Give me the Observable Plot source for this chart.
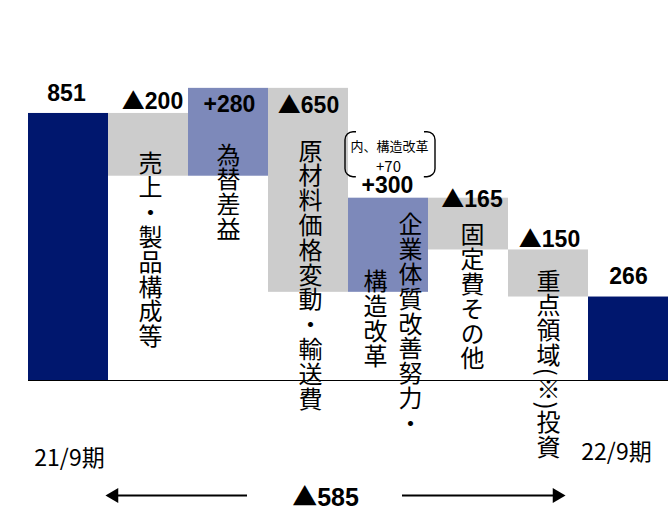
<!DOCTYPE html>
<html><head><meta charset="utf-8">
<script src="https://cdn.jsdelivr.net/npm/d3@7"></script>
<script src="https://cdn.jsdelivr.net/npm/@observablehq/plot@0.6"></script>
<style>
html,body{margin:0;padding:0;background:#fff;}
</style></head><body><div id="chart"></div>
<script>
// ---- data ----
const categories = ["21/9期", "売上・製品構成等", "為替差益", "原材料価格変動・輸送費", "企業体質改善努力・構造改革", "固定費その他", "重点領域(※)投資", "22/9期"];
const values = [851, -200, 280, -650, 300, -165, -150, 266];
const isTotal = [true, false, false, false, false, false, false, true];
const valueLabels = ["851", "▲200", "+280", "▲650", "+300", "▲165", "▲150", "266"];
const barTexts = [[], ["売上・製品構成等"], ["為替差益"], ["原材料価格変動・輸送費"], ["企業体質改善努力・", "構造改革"], ["固定費その他"], ["重点領域(※)投資"], []];
const calloutLines = ["内、構造改革", "+70"];
const periodLabels = ["21/9期", "22/9期"];
const totalChangeLabel = "▲585";

// ---- waterfall ----
let run = 0;
const bars = values.map((v, i) => {
  let y1, y2;
  if (isTotal[i]) { y1 = 0; y2 = v; }
  else { y1 = run; y2 = run + v; }
  run = y2;
  return {i, cat: categories[i], y1, y2, top: Math.max(y1, y2),
          kind: isTotal[i] ? "total" : v < 0 ? "down" : "up", label: valueLabels[i]};
});

// ---- styling / layout ----
const colors = {total: "#00176e", down: "#cccccc", up: "#7d89ba"};
const valueDx = [-2, 4, 1, 0, -1, 3.5, 1, 0];
const valueDy = [-12, -4, 24, 25, -5, 9, -2.5, -13];
const textOffsets = [[], [{dx: 2, dy: 20}], [{dx: 0, dy: 37}], [{dx: 2, dy: 33}],
                     [{dx: 22, dy: -3}, {dx: -13, dy: 54}], [{dx: 4, dy: 7}], [{dx: 0, dy: 1.5}], []];
const numFont = "'Liberation Sans', Arial, sans-serif";
const jpFont = "'Noto Sans CJK JP', sans-serif";

const marks = [
  Plot.rect(bars, {x1: d => d.i, x2: d => d.i + 1, y1: "y1", y2: "y2", fill: d => colors[d.kind]}),
  Plot.ruleY([0], {stroke: "black", strokeWidth: 1.2})
];

bars.forEach((b, k) => {
  marks.push(Plot.text([b], {x: d => d.i + 0.5, y: "top", text: "label", dx: valueDx[k], dy: valueDy[k],
    lineAnchor: "bottom", fontSize: 23, fontWeight: "bold", fontFamily: numFont, fill: "black"}));
  barTexts[k].forEach((line, j) => {
    const o = textOffsets[k][j];
    marks.push(Plot.text([b], {x: d => d.i + 0.5, y: "top", text: () => line, dx: o.dx, dy: o.dy,
      textAnchor: "start", lineAnchor: "top", fontSize: 24, fontFamily: jpFont, fill: "black"}));
  });
});

// callout on the 5th bar
const cb = bars[4];
marks.push(
  Plot.rect([cb], {x1: d => d.i, x2: d => d.i + 1, y1: "top", y2: "top", insetLeft: -3, insetRight: -7,
    insetTop: -66, insetBottom: 21, rx: 8, ry: 8, fill: "none", stroke: "black", strokeWidth: 1.4,
    strokeDasharray: "3 68 60.13 68 57.13"}),
  Plot.text([cb], {x: d => d.i + 0.5, y: "top", text: () => calloutLines[0], dx: 1, dy: -51, fontSize: 13, fontFamily: jpFont}),
  Plot.text([cb], {x: d => d.i + 0.5, y: "top", text: () => calloutLines[1], dx: 0, dy: -31, fontSize: 15, fontFamily: jpFont})
);

// period labels
marks.push(
  Plot.text([bars[0]], {x: d => d.i + 0.5, y: 0, text: () => periodLabels[0], dx: 1, dy: 78, fontSize: 23, fontFamily: jpFont}),
  Plot.text([bars[7]], {x: d => d.i + 0.5, y: 0, text: () => periodLabels[1], dx: -12, dy: 72, fontSize: 23, fontFamily: jpFont})
);

// total change arrow
marks.push(
  Plot.ruleY([0], {x1: 1, x2: 4, insetRight: 101, dy: 115, stroke: "black", strokeWidth: 2}),
  Plot.ruleY([0], {x1: 4, x2: 7, insetLeft: 54, insetRight: 30, dy: 115, stroke: "black", strokeWidth: 2}),
  Plot.dot([0], {x: 1, y: 0, dx: 5.5, dy: 115, symbol: "triangle", r: 5.5, fill: "black", rotate: -90}),
  Plot.dot([0], {x: 7, y: 0, dx: -31.5, dy: 115, symbol: "triangle", r: 5.5, fill: "black", rotate: 90}),
  Plot.text([totalChangeLabel], {x: 4, y: 0, text: d => d, dx: -23, dy: 117, fontSize: 25, fontWeight: "bold",
    fontFamily: numFont, fill: "black"})
);

const chart = Plot.plot({
  width: 669, height: 509,
  marginLeft: 28, marginRight: 1, marginTop: 0, marginBottom: 129,
  x: {domain: [0, 8], axis: null},
  y: {domain: [0, 1211], axis: null},
  color: {type: "identity"},
  style: {background: "white", overflow: "visible"},
  marks
});

const verticalSet = new Set(barTexts.flat());
chart.querySelectorAll("text").forEach(t => {
  const s = t.textContent;
  if (verticalSet.has(s)) {
    // vertical writing for the Japanese category labels
    t.removeAttribute("dy");
    t.setAttribute("writing-mode", "tb");
    t.style.writingMode = "vertical-rl";
    t.style.letterSpacing = "0.8px";
  } else if (s.startsWith("▲")) {
    // full-width triangle glyph from the CJK font
    t.textContent = "";
    const ns = "http://www.w3.org/2000/svg";
    const tri = document.createElementNS(ns, "tspan");
    tri.setAttribute("font-family", jpFont);
    tri.textContent = "▲";
    t.appendChild(tri);
    t.appendChild(document.createTextNode(s.slice(1)));
  }
});
document.getElementById("chart").appendChild(chart);
</script></body></html>
